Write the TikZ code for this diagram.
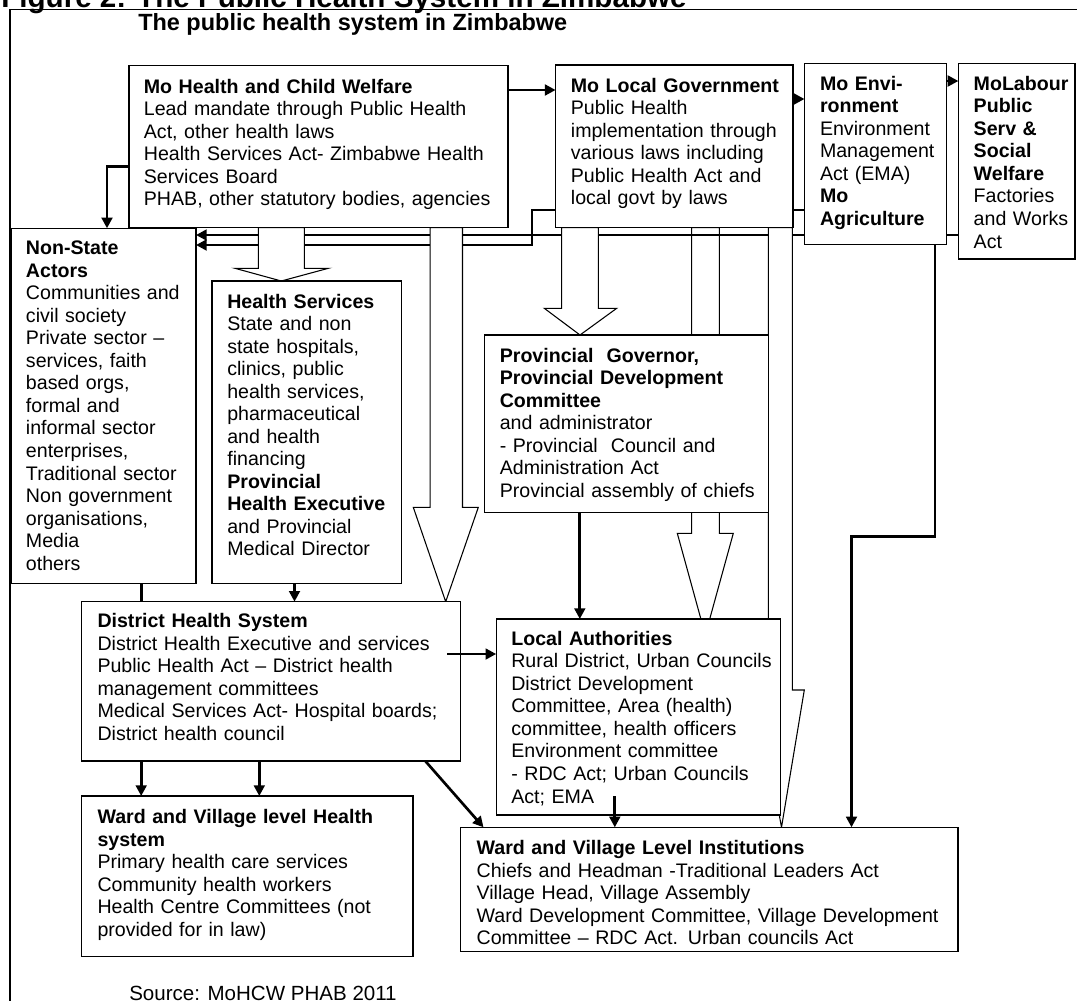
\documentclass[tikz,border=0pt]{standalone}
\usepackage{fontspec}
\setmainfont{Liberation Sans}
\usetikzlibrary{arrows.meta,calc}
\pgfdeclarelayer{lone}
\pgfdeclarelayer{ltwo}
\pgfdeclarelayer{lthree}
\pgfsetlayers{lone,ltwo,lthree,main}
\newcommand\mkbox[5]{\node[box,minimum width={(#4-#2)*0.75pt},minimum height={(#5-#3)*0.75pt}] (#1) at (#2,#3) {};}
\begin{document}
\begin{tikzpicture}[x=0.75pt,y=-0.75pt,
  box/.style={draw,line width=1pt,fill=white,inner sep=0pt,outer sep=0pt,anchor=north west},
  txt/.style={anchor=base west,inner sep=0pt,outer sep=0pt,text width=420pt,align=left,font=\fontsize{14.7pt}{16.9pt}\selectfont},
  thk/.style={line width=2pt},
  arr/.style={thk,-{Triangle[length=8pt,width=8pt]}},
  blk/.style={draw,line width=0.8pt,fill=white,line join=miter}]
\useasboundingbox (0,0) rectangle (1077,1000);
\clip (0,0) rectangle (1077,1000);
% frame and titles
\draw[line width=0.8pt] (10,9.5) rectangle (1100,1030);
\node[anchor=base west,inner sep=0pt,font=\fontsize{22.2pt}{26pt}\selectfont\bfseries] (title) at (1,7) {Figure 2: The Public Health System in Zimbabwe};
\node[anchor=base west,inner sep=0pt,font=\fontsize{17.6pt}{21pt}\selectfont\bfseries] (subtitle) at (138,30.7) {The public health system in Zimbabwe};
\node[anchor=base west,inner sep=0pt,font=\fontsize{15.4pt}{18pt}\selectfont] (source) at (129,1000) {Source: MoHCW PHAB 2011};
% boxes
\mkbox{moh}{129.1}{65.3}{507.9}{227.7}
\mkbox{molg}{555.6}{65}{793}{227.7}
\mkbox{moenv}{804.5}{63.3}{946.5}{244.3}
\mkbox{molab}{958.4}{63.3}{1075}{259}
\mkbox{nsa}{11}{228.3}{196}{583.3}
\mkbox{hs}{212}{281}{401.7}{583.3}
\mkbox{prov}{484.6}{335}{768.3}{512.3}
\mkbox{dhs}{81.6}{601.7}{460.4}{761}
\mkbox{la}{496.2}{619}{780.5}{815}
\mkbox{wvh}{81.6}{796}{413}{956.7}
\mkbox{wvli}{460.6}{827.3}{958}{951.7}
% texts
\node[txt] (mohT) at (143.9,93) {\textbf{Mo Health and Child Welfare}\\Lead mandate through Public Health\\Act, other health laws\\Health Services Act- Zimbabwe Health\\Services Board\\PHAB, other statutory bodies, agencies};
\node[txt] (molgT) at (570.9,92) {\textbf{Mo Local Government}\\Public Health\\implementation through\\various laws including\\Public Health Act and\\local govt by laws};
\node[txt] (moenvT) at (820,90.3) {\textbf{Mo Envi-}\\\textbf{ronment}\\Environment\\Management\\Act (EMA)\\\textbf{Mo}\\\textbf{Agriculture}};
\node[txt] (molabT) at (973.7,90.3) {\textbf{MoLabour}\\\textbf{Public}\\\textbf{Serv \&}\\\textbf{Social}\\\textbf{Welfare}\\Factories\\and Works\\Act};
\node[txt] (nsaT) at (26,254.7) {\textbf{Non-State}\\\textbf{Actors}\\Communities and\\civil society\\Private sector –\\services, faith\\based orgs,\\formal and\\informal sector\\enterprises,\\Traditional sector\\Non government\\organisations,\\Media\\others};
\node[txt] (hsT) at (227.3,308) {\textbf{Health Services}\\State and non\\state hospitals,\\clinics, public\\health services,\\pharmaceutical\\and health\\financing\\\textbf{Provincial}\\\textbf{Health Executive}\\and Provincial\\Medical Director};
\node[txt] (provT) at (499.8,362) {\textbf{Provincial\ \ Governor,}\\\textbf{Provincial Development}\\\textbf{Committee}\\and administrator\\- Provincial\ \ Council and\\Administration Act\\Provincial assembly of chiefs};
\node[txt] (dhsT) at (97.5,627.7) {\textbf{District Health System}\\District Health Executive and services\\Public Health Act – District health\\management committees\\Medical Services Act- Hospital boards;\\District health council};
\node[txt] (laT) at (511.3,645.3) {\textbf{Local Authorities}\\Rural District, Urban Councils\\District Development\\Committee, Area (health)\\committee, health officers\\Environment committee\\- RDC Act; Urban Councils\\Act; EMA};
\node[txt] (wvhT) at (97.5,823.7) {\textbf{Ward and Village level Health}\\\textbf{system}\\Primary health care services\\Community health workers\\Health Centre Committees (not\\provided for in law)};
\node[txt] (wvliT) at (476.6,854.7) {\textbf{Ward and Village Level Institutions}\\Chiefs and Headman -Traditional Leaders Act\\Village Head, Village Assembly\\Ward Development Committee, Village Development\\Committee – RDC Act. Urban councils Act};
% lowest block arrow (behind the lines)
\begin{pgfonlayer}{lone}
\draw[blk] (molg.south -| 691.7,0) -- (691.7,533.3) -- (677.3,533.3) -- (705.3,635) -- (733.3,533.3) -- (719.3,533.3) -- (molg.south -| 719.3,0) -- cycle;
\end{pgfonlayer}
% long lines back to non-state actors
\begin{pgfonlayer}{ltwo}
\draw[arr] (molab.west |- 0,235) -- (nsa.east |- 0,235);
\draw[arr] (moenv.west |- 0,210) -- (532,210) -- (532,245) -- (nsa.east |- 0,245);
\end{pgfonlayer}
% block arrows in front of the lines
\begin{pgfonlayer}{lthree}
\draw[blk] (moh.south -| 258.3,0) -- (258.3,268.3) -- (235,268.3) -- (hs.north -| 281.3,0) -- (328.3,268.3) -- (304.3,268.3) -- (moh.south -| 304.3,0) -- cycle;
\draw[blk] (moh.south -| 430.2,0) -- (430.2,507.3) -- (413.3,507.3) -- (dhs.north -| 445.7,0) -- (478.3,507.3) -- (462.5,507.3) -- (moh.south -| 462.5,0) -- cycle;
\draw[blk] (molg.south -| 561.7,0) -- (561.7,308.3) -- (544.3,308.3) -- (prov.north -| 580,0) -- (616.7,308.3) -- (598.3,308.3) -- (molg.south -| 598.3,0) -- cycle;
\draw[blk] (molg.south -| 768.3,0) -- (768.3,690) -- (756.5,690) -- (wvli.north -| 781.5,0) -- (804.3,690) -- (792.3,690) -- (molg.south -| 792.3,0) -- cycle;
\end{pgfonlayer}
% connectors
\draw[arr] (moh.east |- 0,90) -- (molg.west |- 0,90);
\draw[arr] (molg.east |- 0,99) -- (moenv.west |- 0,99);
\draw[arr] (moenv.east |- 0,81) -- (molab.west |- 0,81);
\draw[arr] (moh.west |- 0,166.7) -| (nsa.north -| 107,0);
\draw[arr] (moenv.south -| 935,0) -- (935,536.7) -- (851.5,536.7) -- (wvli.north -| 851.5,0);
\draw[arr] (prov.south -| 579.8,0) -- (la.north -| 579.8,0);
\draw[arr] (hs.south -| 294.5,0) -- (dhs.north -| 294.5,0);
\draw[thk] (nsa.south -| 141.2,0) -- (dhs.north -| 141.2,0);
\draw[arr] (dhs.south -| 141.2,0) -- (wvh.north -| 141.2,0);
\draw[arr] (dhs.south -| 259.3,0) -- (wvh.north -| 259.3,0);
\draw[arr] (dhs.south -| 425.3,0) -- (wvli.north -| 483.5,0);
\draw[arr] ($(dhs.east |- 0,654)+(-13,0)$) -- (la.west |- 0,654);
\draw[arr] ($(la.south -| 614.8,0)+(0,-19)$) -- (wvli.north -| 614.8,0);
\end{tikzpicture}
\end{document}
